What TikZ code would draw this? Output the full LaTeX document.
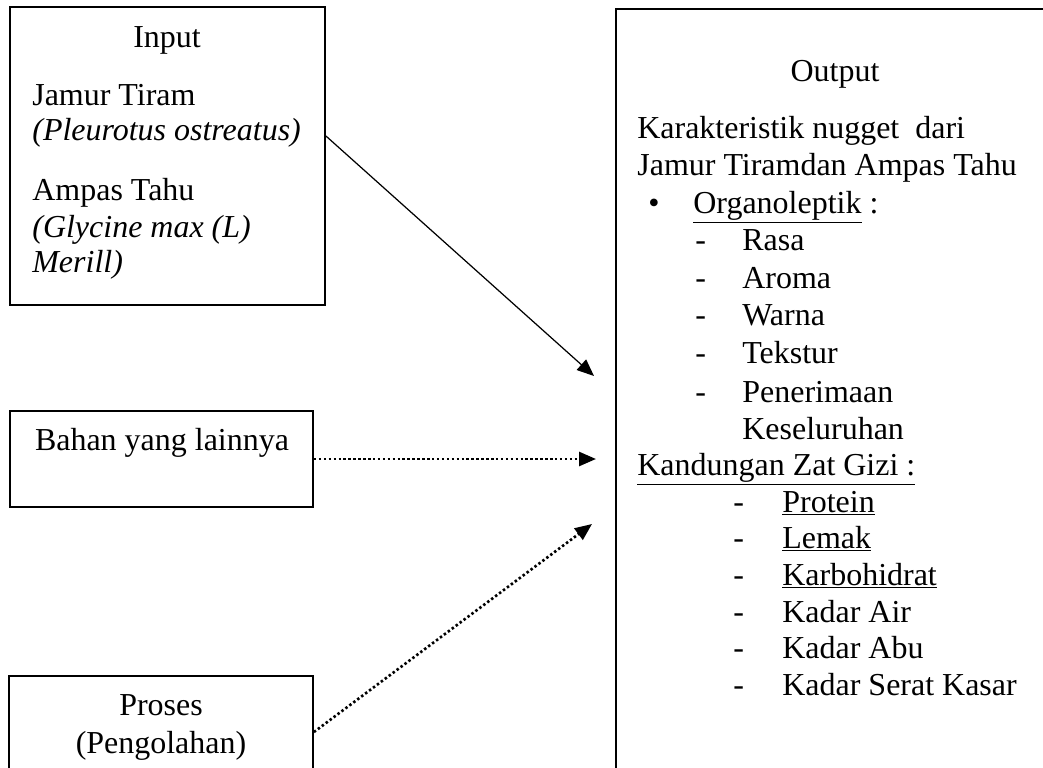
\documentclass[tikz,border=0pt]{standalone}
\usepackage{fontspec}
\setmainfont{Liberation Serif}
\usetikzlibrary{arrows.meta}

\tikzset{
  box/.style={draw, line width=1.1pt, inner sep=0pt},
  txt/.style={anchor=base west, inner sep=0pt},
  ctxt/.style={anchor=base, inner sep=0pt},
  tip/.style={-{Triangle[length=0.34cm, width=0.28cm]}},
  dots/.style={line width=1.5pt, dash pattern=on 1.4pt off 1.4pt},
}

\begin{document}
\begin{tikzpicture}[x=0.02cm, y=-0.02cm, font=\fontsize{18.2pt}{21pt}\selectfont]
        \clip (0,0) rectangle (1043,767);

        % boxes
        \node[box, minimum width=6.3cm, minimum height=5.96cm] (input) at (167.5,156) {};
        \node[box, minimum width=6.06cm, minimum height=1.92cm] (bahan) at (161.5,459) {};
        \node[box, minimum width=6.08cm, minimum height=2.24cm] (proses) at (161,732) {};
        \node[box, minimum width=9.68cm, minimum height=16.82cm] (output) at (858,429.5) {};

        % input
        \node[ctxt] (inputtitle) at (167,48) {Input};
        \node[txt] (jamur) at (32,105) {Jamur Tiram};
        \node[txt] (jamurlatin) at (32,140) {\itshape (Pleurotus ostreatus)};
        \node[txt] (ampas) at (32,200) {Ampas Tahu};
        \node[txt] (ampaslatin) at (32,237) {\itshape (Glycine max (L)};
        \node[txt] (ampaslatinb) at (32,272) {\itshape Merill)};

        \node[ctxt] (bahantext) at (162,450) {Bahan yang lainnya};
        \node[ctxt] (prosestext) at (161,715) {Proses};
        \node[ctxt] (olahtext) at (161,753) {(Pengolahan)};

        % output
        \node[ctxt] (outputtitle) at (835,82) {Output};
        \node[txt] (kar) at (637,138) {Karakteristik nugget~ dari};
        \node[txt] (karb) at (637,175) {Jamur Tiramdan Ampas Tahu};
        \node[txt] (bullet) at (648,213) {\textbullet};
        \node[txt] (organo) at (693,213) {\underline{Organoleptik} :};

        \node[txt] (d1) at (695,250) {-};
        \node[txt] (rasa) at (742,250) {Rasa};
        \node[txt] (d2) at (695,288) {-};
        \node[txt] (aroma) at (742,288) {Aroma};
        \node[txt] (d3) at (695,325) {-};
        \node[txt] (warna) at (742,325) {Warna};
        \node[txt] (d4) at (695,363) {-};
        \node[txt] (tekstur) at (742,363) {Tekstur};
        \node[txt] (d5) at (695,402) {-};
        \node[txt] (terima) at (742,402) {Penerimaan};
        \node[txt] (seluruh) at (742,439) {Keseluruhan};

        \node[txt] (gizi) at (637,475) {\underline{Kandungan Zat Gizi :}};
        \node[txt] (e1) at (733,512) {-};
        \node[txt] (protein) at (782,512) {\underline{Protein}};
        \node[txt] (e2) at (733,548) {-};
        \node[txt] (lemak) at (782,548) {\underline{Lemak}};
        \node[txt] (e3) at (733,585) {-};
        \node[txt] (karbo) at (782,585) {\underline{Karbohidrat}};
        \node[txt] (e4) at (733,622) {-};
        \node[txt] (air) at (782,622) {Kadar Air};
        \node[txt] (e5) at (733,658) {-};
        \node[txt] (abu) at (782,658) {Kadar Abu};
        \node[txt] (e6) at (733,695) {-};
        \node[txt] (serat) at (782,695) {Kadar Serat Kasar};

        % arrows
        \coordinate (inA) at (594,376);
        \coordinate (inB) at (596,459);
        \coordinate (inC) at (592,524);
        \draw[tip, line width=0.7pt] ([yshift=0.4cm]input.east) -- (inA);
        \draw[tip, dots] (bahan.east) -- (inB);
        \draw[tip, dots] (proses.east) -- (inC);
    \end{tikzpicture}
\end{document}
